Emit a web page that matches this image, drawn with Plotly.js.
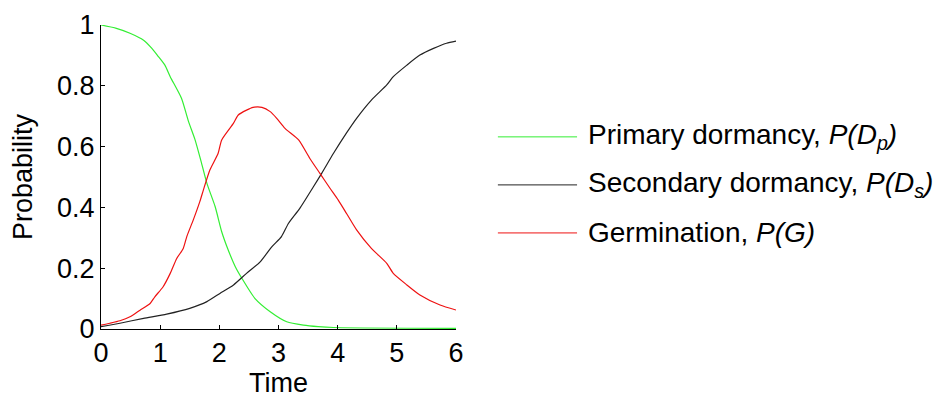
<!DOCTYPE html>
<html>
<head>
<meta charset="utf-8">
<script src="https://cdn.plot.ly/plotly-3.0.1.min.js"></script>
<style>html,body{margin:0;padding:0;background:#fff;}#chart{width:941px;height:398px;}</style>
</head>
<body>
<div id="chart"></div>
<script>
// Primary dormancy P(Dp)
const primaryTime = [0, 0.26, 0.49, 0.72, 0.86, 0.97, 1.08, 1.17, 1.36, 1.48, 1.59, 1.70, 1.79, 1.93, 2.04, 2.15, 2.27, 2.38, 2.60, 2.86, 3.14, 3.42, 3.67, 3.93, 6.0];
const primaryProb = [1.0, 0.989, 0.973, 0.95, 0.923, 0.896, 0.868, 0.83, 0.759, 0.682, 0.622, 0.545, 0.479, 0.402, 0.32, 0.26, 0.205, 0.167, 0.101, 0.057, 0.024, 0.013, 0.008, 0.005, 0.002];
// Secondary dormancy P(Ds)
const secondaryTime = [0, 0.32, 0.72, 1.11, 1.50, 1.79, 2.01, 2.24, 2.46, 2.69, 2.89, 3.05, 3.17, 3.36, 3.59, 3.73, 3.93, 4.15, 4.32, 4.57, 4.83, 4.94, 5.17, 5.39, 5.62, 5.84, 6.0];
const secondaryProb = [0.008, 0.019, 0.035, 0.049, 0.068, 0.09, 0.117, 0.145, 0.183, 0.221, 0.271, 0.304, 0.348, 0.397, 0.468, 0.512, 0.578, 0.645, 0.693, 0.753, 0.803, 0.83, 0.868, 0.901, 0.923, 0.94, 0.947];
// Germination P(G)
const germTime = [0, 0.15, 0.32, 0.49, 0.66, 0.83, 0.91, 1.05, 1.17, 1.28, 1.39, 1.45, 1.56, 1.67, 1.73, 1.84, 1.98, 2.04, 2.24, 2.32, 2.46, 2.57, 2.72, 2.86, 2.97, 3.11, 3.34, 3.53, 3.70, 3.87, 4.01, 4.15, 4.32, 4.57, 4.83, 4.94, 5.17, 5.39, 5.73, 6.0];
const germProb = [0.013, 0.019, 0.027, 0.04, 0.062, 0.084, 0.106, 0.139, 0.183, 0.232, 0.265, 0.304, 0.359, 0.419, 0.457, 0.523, 0.578, 0.622, 0.677, 0.704, 0.72, 0.729, 0.729, 0.715, 0.693, 0.66, 0.622, 0.561, 0.512, 0.463, 0.424, 0.38, 0.326, 0.265, 0.216, 0.183, 0.145, 0.112, 0.079, 0.0625];

const seriesNames = ['Primary dormancy, <i>P(D<sub>p</sub>)</i>', 'Secondary dormancy, <i>P(D<sub>s</sub>)</i>', 'Germination, <i>P(G)</i>'];
const seriesColors = ['#33ee33', '#222222', '#ee1111'];
const xTicks = [0, 1, 2, 3, 4, 5, 6];
const yTicks = [0, 0.2, 0.4, 0.6, 0.8, 1];
const yTickLabels = ['0', '0.2', '0.4', '0.6', '0.8', '1'];

const xs = [primaryTime, secondaryTime, germTime];
const ys = [primaryProb, secondaryProb, germProb];

const traces = xs.map((x, i) => ({
  x: x, y: ys[i], type: 'scatter', mode: 'lines', name: seriesNames[i],
  line: {color: seriesColors[i], width: 1.2, shape: 'spline', smoothing: 0.6}, showlegend: false
}));

const FONT = 'Liberation Sans, Arial, sans-serif';
const legendY = [0.632, 0.474, 0.316];
const shapes = [];
const annotations = [];
seriesNames.forEach((n, i) => {
  shapes.push({type: 'line', xref: 'paper', yref: 'paper', x0: 1.118, x1: 1.341, y0: legendY[i], y1: legendY[i],
    line: {color: seriesColors[i], width: 1}});
  annotations.push({xref: 'paper', yref: 'paper', x: 1.366, y: legendY[i], xanchor: 'left', yanchor: 'middle',
    text: n, showarrow: false, font: {family: FONT, size: 28, color: '#000'}});
});

const layout = {
  width: 941, height: 398,
  margin: {l: 101, r: 485, t: 25, b: 69},
  paper_bgcolor: '#fff', plot_bgcolor: '#fff',
  font: {family: FONT, size: 27, color: '#000'},
  xaxis: {
    range: [0, 6], tickvals: xTicks, ticktext: xTicks.map(String),
    showgrid: false, zeroline: false, showline: true, linecolor: '#000', linewidth: 1,
    ticks: 'inside', ticklen: 4, tickcolor: '#000', mirror: false,
    title: {text: 'Time', font: {family: FONT, size: 27}, standoff: 4},
    tickfont: {family: FONT, size: 27}
  },
  yaxis: {
    range: [0, 1], tickvals: yTicks, ticktext: yTickLabels,
    showgrid: false, zeroline: false, showline: true, linecolor: '#000', linewidth: 1,
    ticks: 'inside', ticklen: 4, tickcolor: '#000',
    title: {text: 'Probability', font: {family: FONT, size: 27}, standoff: 16},
    tickfont: {family: FONT, size: 27}
  },
  shapes: shapes,
  annotations: annotations,
  showlegend: false
};

Plotly.newPlot('chart', traces, layout, {displayModeBar: false, staticPlot: true});
</script>
</body>
</html>
